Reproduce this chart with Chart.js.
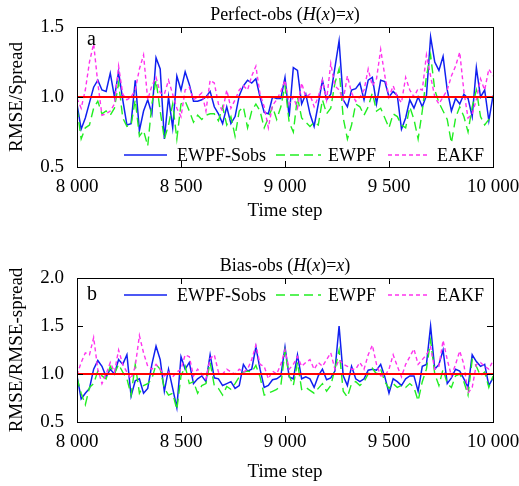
<!DOCTYPE html>
<html>
<head>
<meta charset="utf-8">
<script src="https://cdn.jsdelivr.net/npm/chart.js@4.4.0/dist/chart.umd.min.js"></script>
<style>
  html, body { margin: 0; padding: 0; background: #fff; }
  #wrap { position: relative; width: 519px; height: 486px; }
  canvas { position: absolute; left: 0; }
</style>
</head>
<body>
<div id="wrap">
  <canvas id="chartA" width="519" height="240" style="top:0"></canvas>
  <canvas id="chartB" width="519" height="246" style="top:240px"></canvas>
</div>
<script>
// time steps 8000..10000, every 20 steps
const timeSteps = [];
for (let t = 8000; t <= 10000; t += 20) timeSteps.push(t);

const xTicks = [8000, 8500, 9000, 9500, 10000];
const ratioOne = [1, 1];            // reference level RMSE = spread
const ratioOneSteps = [8000, 10000];

// Panel a: perfect observations
const perfectSobs = [
  0.95,0.77,0.85,0.96,1.07,1.12,1.05,1.04,1.17,1.0,1.18,0.98,0.8,0.81,1.12,0.76,0.9,0.98,0.88,1.28,1.2,0.7,1.0,0.78,1.15,1.05,1.18,1.09,0.97,0.97,0.98,1.0,1.04,
  0.93,0.88,0.81,0.93,0.81,0.86,1.01,1.08,1.12,1.1,1.13,1.0,0.89,0.88,1.0,0.99,0.99,1.14,0.86,1.21,1.19,0.95,1.02,0.88,0.79,0.95,1.12,0.98,1.02,1.21,1.40,0.98,0.93,1.05,
  1.06,1.1,0.98,1.12,1.14,0.95,1.12,1.11,1.0,1.04,1.01,0.77,0.85,0.98,0.92,1.0,0.93,1.01,1.43,1.25,1.19,1.29,1.05,0.9,0.99,0.95,1.02,0.99,0.86,1.21,1.0,1.05,0.83,1.01
];
const perfectEwpf = [
  0.92,0.7,0.78,0.8,0.92,0.97,0.88,0.9,0.87,0.92,1.1,0.85,0.79,0.8,0.98,0.72,0.76,0.65,0.95,1.12,0.9,0.7,0.8,0.95,0.7,0.95,0.97,0.9,0.82,0.87,0.84,0.87,0.88,
  0.88,0.83,0.93,0.8,0.86,0.72,0.9,0.93,0.78,0.9,0.95,0.9,0.78,0.85,0.93,0.84,0.93,1.08,0.82,0.75,1.0,0.85,0.82,0.79,0.82,0.8,0.98,0.88,0.92,1.1,1.2,0.85,0.7,0.8,
  0.95,0.93,0.87,0.93,1.03,0.9,0.92,0.85,0.78,0.88,0.86,0.8,0.78,0.93,0.84,0.7,0.9,1.15,1.3,1.05,0.96,0.9,0.84,0.67,0.85,0.93,0.86,0.75,0.93,1.05,0.86,0.8,0.84,0.86
];
const perfectEakf = [
  0.99,0.92,1.05,1.25,1.38,1.1,0.87,0.88,0.9,0.95,1.22,1.02,0.98,1.0,1.05,1.2,1.3,0.98,1.08,1.14,1.03,1.02,1.12,1.02,0.92,0.86,1.05,1.07,0.98,1.0,1.03,0.9,1.12,
  1.1,0.95,0.9,1.05,0.92,0.98,1.05,1.08,1.05,1.15,1.22,1.02,0.93,0.78,0.94,0.98,1.04,1.12,0.95,1.0,0.92,1.1,1.0,1.02,0.93,1.0,1.12,0.98,1.24,1.08,1.05,0.98,1.15,1.03,
  0.97,1.0,1.05,1.2,1.08,1.13,1.34,1.15,1.0,1.08,1.0,0.96,1.14,1.05,1.0,1.06,1.05,1.3,1.15,1.0,0.95,1.0,1.05,1.15,1.22,1.32,1.04,0.85,0.88,0.98,1.13,1.05,1.2,1.15
];

// Panel b: biased observations
const biasSobs = [
  0.98,0.74,0.8,0.85,1.05,1.14,1.08,0.97,1.05,1.0,1.15,1.1,1.2,0.77,0.93,0.95,0.8,0.85,1.1,1.29,1.15,0.82,1.05,0.85,0.65,1.18,1.05,1.12,0.9,0.95,0.98,0.92,1.2,
  0.96,0.95,0.88,0.9,0.92,0.85,0.88,1.1,1.03,1.05,1.28,1.05,0.86,0.88,0.94,0.95,0.98,1.28,0.97,0.95,1.2,0.95,0.97,0.95,0.86,0.98,1.05,0.94,0.96,1.03,1.5,0.98,0.88,1.08,
  0.95,0.92,0.95,1.04,1.05,1.04,1.1,0.97,0.8,0.95,0.92,0.88,0.95,0.98,0.98,0.82,1.08,1.1,1.5,1.05,1.1,1.25,0.9,0.96,1.05,1.03,0.95,0.86,1.2,1.13,1.08,1.1,0.88,0.96
];
const biasEwpf = [
  0.96,0.8,0.68,0.86,0.9,1.03,0.98,0.95,1.08,1.0,1.1,1.02,0.95,0.78,1.1,0.8,0.88,0.9,0.95,1.1,1.05,0.85,0.78,0.8,0.63,0.98,1.08,0.9,0.92,0.8,0.88,0.9,1.12,
  0.88,0.85,0.78,0.87,0.84,0.9,0.97,1.02,1.03,1.02,1.09,0.97,0.78,0.8,0.82,0.84,0.88,1.24,0.98,0.88,1.12,0.84,0.86,0.83,0.8,0.85,0.9,0.82,0.88,1.05,1.25,0.82,0.76,0.9,
  0.92,0.88,0.92,1.0,1.06,1.0,1.05,0.92,0.85,0.9,0.86,0.88,0.86,0.9,0.86,0.72,0.92,1.05,1.35,1.0,0.88,1.05,0.9,0.86,0.98,1.0,0.92,0.78,1.15,1.08,0.98,1.02,0.86,0.98
];
const biasEakf = [
  0.99,1.12,1.22,1.2,1.38,1.05,0.9,1.0,1.12,1.02,1.25,1.1,1.02,0.95,1.08,1.4,1.22,1.08,1.05,1.1,1.05,0.98,1.02,0.97,1.02,1.05,1.2,1.18,0.98,1.05,1.0,0.95,1.16,
  1.2,1.02,1.0,1.05,1.02,1.0,1.05,1.02,1.05,1.15,1.3,1.1,1.08,0.95,1.03,1.0,1.1,1.25,1.05,1.1,1.18,1.08,1.12,1.15,1.05,1.12,1.08,1.15,1.22,1.05,1.15,1.1,1.08,1.05,
  1.05,1.12,1.05,1.2,1.3,1.1,0.98,0.98,1.05,1.2,1.08,0.97,1.1,1.18,1.26,1.1,1.15,1.2,1.28,1.05,1.08,1.35,1.15,0.98,1.1,1.24,1.1,0.8,0.86,1.1,1.12,1.08,1.05,1.14
];

const FONT = '"Liberation Serif", "DejaVu Serif", serif';
const BLUE = '#1020f0', GREEN = '#22ee22', MAGENTA = '#ff33ee', RED = '#ff0000';

function pts(ys, xs) {
  return ys.map((y, i) => ({ x: (xs || timeSteps)[i], y: y }));
}

function fmtStep(v) {
  return String(v).replace(/\B(?=(\d{3})+(?!\d))/g, ' ');
}

// frame, inward ticks, panel letter, mixed-style title and the in-plot legend
const decorations = {
  id: 'decorations',
  afterDraw(chart, args, opts) {
    const ctx = chart.ctx;
    const a = chart.chartArea;
    const xs = chart.scales.x, ys = chart.scales.y;
    ctx.save();
    ctx.strokeStyle = '#000';
    ctx.lineWidth = 1;
    ctx.setLineDash([]);
    ctx.strokeRect(Math.round(a.left) + 0.5, Math.round(a.top) + 0.5,
                   Math.round(a.right - a.left), Math.round(a.bottom - a.top));
    const tl = 6;
    ctx.beginPath();
    xs.ticks.forEach(t => {
      const px = Math.round(xs.getPixelForValue(t.value)) + 0.5;
      ctx.moveTo(px, a.bottom); ctx.lineTo(px, a.bottom - tl);
      ctx.moveTo(px, a.top); ctx.lineTo(px, a.top + tl);
    });
    ys.ticks.forEach(t => {
      const py = Math.round(ys.getPixelForValue(t.value)) + 0.5;
      ctx.moveTo(a.left, py); ctx.lineTo(a.left + tl, py);
      ctx.moveTo(a.right, py); ctx.lineTo(a.right - tl, py);
    });
    ctx.stroke();

    // panel letter
    ctx.fillStyle = '#000';
    ctx.font = '20px ' + FONT;
    ctx.textBaseline = 'middle';
    ctx.textAlign = 'left';
    ctx.fillText(opts.letter, a.left + 10, a.top + opts.letterDy);

    // title with italic parts
    let total = 0;
    const widths = opts.title.map(p => {
      ctx.font = (p[1] ? 'italic ' : '') + '18px ' + FONT;
      const w = ctx.measureText(p[0]).width;
      total += w;
      return w;
    });
    let x = (a.left + a.right) / 2 - total / 2;
    opts.title.forEach((p, i) => {
      ctx.font = (p[1] ? 'italic ' : '') + '18px ' + FONT;
      ctx.fillText(p[0], x, opts.titleY);
      x += widths[i];
    });

    // legend
    ctx.font = '18px ' + FONT;
    const ly = a.top + opts.legendDy;
    chart.data.datasets.forEach(ds => {
      if (!ds.legendX) return;
      const [x0, x1, tx] = ds.legendX.map(v => a.left + v);
      ctx.strokeStyle = ds.borderColor;
      ctx.lineWidth = ds.borderWidth;
      ctx.setLineDash(ds.borderDash || []);
      ctx.beginPath();
      ctx.moveTo(x0, ly); ctx.lineTo(x1, ly);
      ctx.stroke();
      ctx.fillStyle = '#000';
      ctx.fillText(ds.label, tx, ly + 1);
    });
    ctx.restore();
  }
};

function makePanel(id, cfg) {
  new Chart(document.getElementById(id), {
    type: 'line',
    data: {
      datasets: [
        { label: 'ref', data: pts(ratioOne, ratioOneSteps), borderColor: RED, borderWidth: 2, pointRadius: 0, order: 0 },
        { label: 'EAKF', data: pts(cfg.eakf), borderColor: MAGENTA, borderWidth: 1.4, borderDash: [4, 3],
          pointRadius: 0, order: 1, legendX: [311, 351, 360] },
        { label: 'EWPF', data: pts(cfg.ewpf), borderColor: GREEN, borderWidth: 1.4, borderDash: [9, 5],
          pointRadius: 0, order: 2, legendX: [199, 244, 251] },
        { label: 'EWPF-Sobs', data: pts(cfg.sobs), borderColor: BLUE, borderWidth: 1.5,
          pointRadius: 0, order: 3, legendX: [47, 90, 100] }
      ]
    },
    options: {
      responsive: false,
      animation: false,
      layout: { padding: { top: cfg.padTop, right: 26, bottom: 0, left: 0 } },
      plugins: {
        legend: { display: false },
        tooltip: { enabled: false },
        decorations: { letter: cfg.letter, letterDy: cfg.letterDy, title: cfg.title,
                       titleY: cfg.titleY, legendDy: cfg.legendDy }
      },
      scales: {
        x: {
          type: 'linear', min: 8000, max: 10000,
          afterFit(s) { s.height = cfg.xAxisH; s.paddingRight = 0; s.paddingLeft = 0; },
          afterBuildTicks(s) { s.ticks = xTicks.map(v => ({ value: v })); },
          grid: { display: false, drawTicks: false },
          border: { display: false },
          ticks: { padding: 9, color: '#000', maxRotation: 0, autoSkip: false,
                   font: { family: FONT, size: 19 }, callback: v => fmtStep(v) },
          title: { display: true, text: 'Time step', color: '#000',
                   font: { family: FONT, size: 19 }, padding: { top: 0, bottom: cfg.xTitlePad } }
        },
        y: {
          min: 0.5, max: cfg.yMax,
          afterFit(s) { s.width = 77; },
          grid: { display: false, drawTicks: false },
          border: { display: false },
          ticks: { stepSize: 0.5, padding: 13, color: '#000',
                   font: { family: FONT, size: 19 }, callback: v => v.toFixed(1) },
          title: { display: true, text: cfg.yTitle, color: '#000',
                   font: { family: FONT, size: 19 }, padding: { top: 6, bottom: 0 } }
        }
      }
    },
    plugins: [decorations]
  });
}

makePanel('chartA', {
  sobs: perfectSobs, ewpf: perfectEwpf, eakf: perfectEakf,
  yMax: 1.5, yTitle: 'RMSE/Spread', letter: 'a', letterDy: 13,
  title: [['Perfect-obs (', false], ['H', true], ['(', false], ['x', true], [')=', false], ['x', true], [')', false]],
  titleY: 15, legendDy: 128, padTop: 27, xAxisH: 73, xTitlePad: 18
});

makePanel('chartB', {
  sobs: biasSobs, ewpf: biasEwpf, eakf: biasEakf,
  yMax: 2.0, yTitle: 'RMSE/RMSE-spread', letter: 'b', letterDy: 17,
  title: [['Bias-obs (', false], ['H', true], ['(', false], ['x', true], [')=', false], ['x', true], [')', false]],
  titleY: 26, legendDy: 17, padTop: 38, xAxisH: 64, xTitlePad: 3
});
</script>
</body>
</html>
